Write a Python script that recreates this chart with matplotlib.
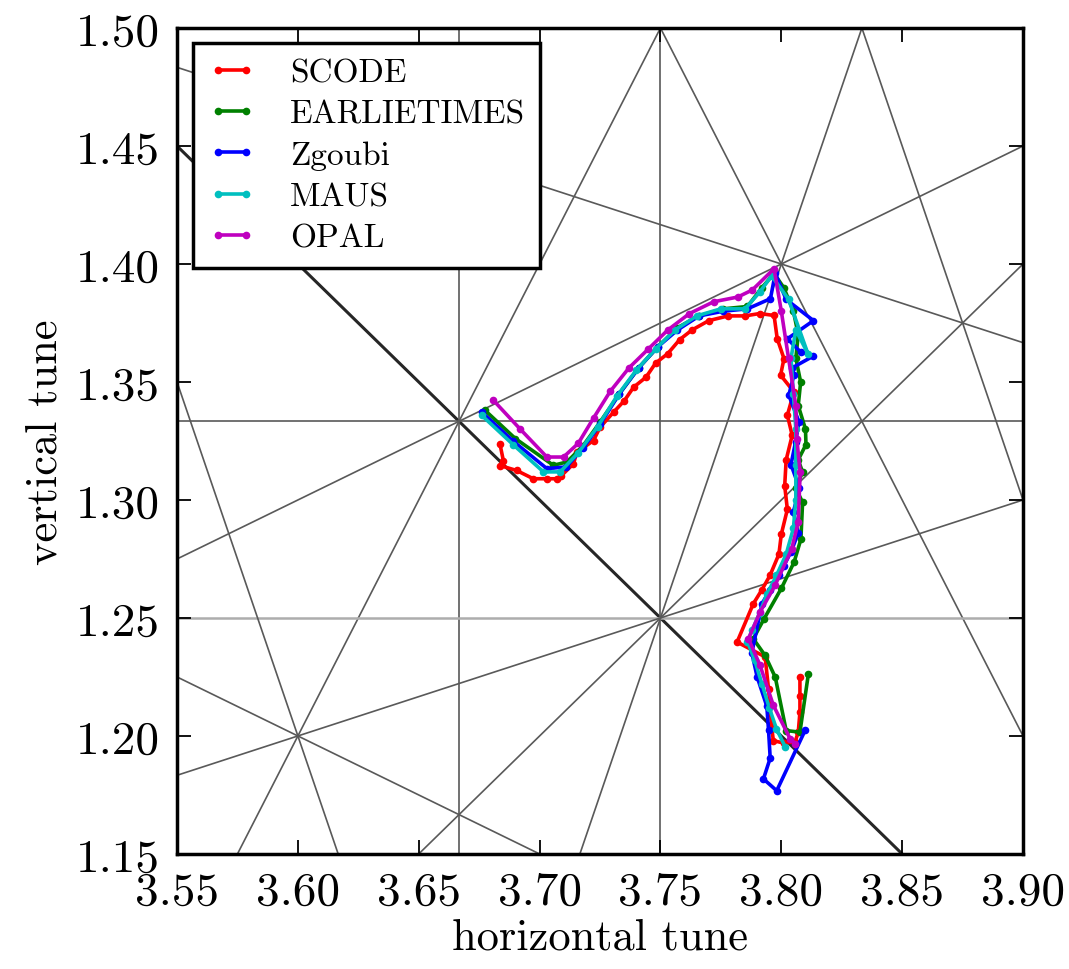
import matplotlib
matplotlib.use("Agg")
import matplotlib.pyplot as plt

plt.rcParams['font.family'] = ['cmr10', 'DejaVu Serif']
plt.rcParams['axes.formatter.use_mathtext'] = True

# resonance lines m*Qx + n*Qy = p, grouped by order
resonances = [
    (1, 1, 5),
    (3, 0, 11), (0, 3, 4), (2, 1, 9), (2, -1, 6), (1, 2, 6), (1, -2, 1),
    (4, 0, 15), (0, 4, 5), (3, 1, 12), (3, 1, 13), (1, 3, 8), (3, -1, 10),
    (1, -3, 0), (2, -2, 5),
]

scode_x = [3.6836, 3.6850, 3.6836, 3.6905, 3.6974, 3.7030, 3.7071, 3.7090, 3.7140, 3.7154,
           3.7223, 3.7250, 3.7306, 3.7350, 3.7389, 3.7440, 3.7480, 3.7530, 3.7580, 3.7630,
           3.7700, 3.7780, 3.7850, 3.7910, 3.7970, 3.7983, 3.8011, 3.7997, 3.8052, 3.8025,
           3.8045, 3.8020, 3.8014, 3.8025, 3.8000, 3.7990, 3.7953, 3.7920, 3.7884, 3.7817,
           3.7933, 3.7947, 3.7960, 3.7967, 3.8010, 3.8057, 3.8070, 3.8077, 3.8077, 3.8077]
scode_y = [1.3237, 1.3167, 1.3146, 1.3125, 1.3090, 1.3090, 1.3090, 1.3103, 1.3153, 1.3202,
           1.3252, 1.3308, 1.3372, 1.3420, 1.3478, 1.3520, 1.3580, 1.3620, 1.3680, 1.3720,
           1.3760, 1.3780, 1.3780, 1.3790, 1.3782, 1.3684, 1.3599, 1.3529, 1.3458, 1.3359,
           1.3274, 1.3170, 1.3060, 1.2960, 1.2855, 1.2770, 1.2680, 1.2620, 1.2560, 1.2398,
           1.2335, 1.2200, 1.2040, 1.1980, 1.1970, 1.1975, 1.2016, 1.2100, 1.2170, 1.2250]

early_x = [3.6774, 3.6900, 3.7057, 3.7113, 3.7180, 3.7250, 3.7330, 3.7410, 3.7490, 3.7570,
           3.7660, 3.7760, 3.7860, 3.7920, 3.7970, 3.8010, 3.8050, 3.8070, 3.8060, 3.8080,
           3.8070, 3.8100, 3.8102, 3.8070, 3.8088, 3.8060, 3.8088, 3.8081, 3.8053, 3.8000,
           3.7929, 3.7884, 3.7933, 3.7975, 3.8020, 3.8077, 3.8112]
early_y = [1.3380, 1.3260, 1.3147, 1.3161, 1.3230, 1.3330, 1.3450, 1.3560, 1.3650, 1.3730,
           1.3780, 1.3810, 1.3820, 1.3900, 1.3960, 1.3900, 1.3800, 1.3700, 1.3600, 1.3500,
           1.3400, 1.3300, 1.3235, 1.3170, 1.3118, 1.3050, 1.2990, 1.2834, 1.2737, 1.2625,
           1.2497, 1.2412, 1.2341, 1.2249, 1.2023, 1.2016, 1.2263]

zgoubi_x = [3.6760, 3.6890, 3.7030, 3.7110, 3.7180, 3.7250, 3.7330, 3.7410, 3.7490, 3.7570,
            3.7660, 3.7760, 3.7860, 3.7955, 3.7975, 3.8020, 3.8133, 3.8025, 3.8080, 3.8133,
            3.8045, 3.8052, 3.8031, 3.8073, 3.8059, 3.8040, 3.8075, 3.8050, 3.8070, 3.8040,
            3.8010, 3.7990, 3.7953, 3.7920, 3.7878, 3.7900, 3.7940, 3.7947, 3.7954, 3.7926,
            3.7981, 3.8100]
zgoubi_y = [1.3373, 1.3250, 1.3133, 1.3140, 1.3220, 1.3320, 1.3450, 1.3560, 1.3650, 1.3720,
            1.3780, 1.3800, 1.3810, 1.3853, 1.3960, 1.3850, 1.3760, 1.3683, 1.3627, 1.3610,
            1.3560, 1.3529, 1.3444, 1.3331, 1.3246, 1.3150, 1.3050, 1.2950, 1.2860, 1.2780,
            1.2720, 1.2680, 1.2620, 1.2560, 1.2352, 1.2250, 1.2126, 1.2027, 1.1906, 1.1818,
            1.1768, 1.2027]

maus_x = [3.6760, 3.6890, 3.7016, 3.7085, 3.7160, 3.7240, 3.7320, 3.7400, 3.7480, 3.7560,
          3.7650, 3.7750, 3.7850, 3.7910, 3.7960, 3.8030, 3.8110, 3.8060, 3.8040, 3.8050,
          3.8060, 3.8060, 3.8060, 3.8050, 3.8020, 3.7980, 3.7940, 3.7910, 3.7880, 3.7860,
          3.7890, 3.7920, 3.7950, 3.7980, 3.8017]
maus_y = [1.3359, 1.3235, 1.3119, 1.3119, 1.3200, 1.3310, 1.3440, 1.3550, 1.3640, 1.3720,
          1.3780, 1.3810, 1.3810, 1.3880, 1.3950, 1.3850, 1.3620, 1.3720, 1.3600, 1.3450,
          1.3300, 1.3150, 1.3000, 1.2880, 1.2770, 1.2680, 1.2600, 1.2520, 1.2450, 1.2400,
          1.2320, 1.2220, 1.2120, 1.2030, 1.1952]

opal_x = [3.6809, 3.6920, 3.7030, 3.7099, 3.7160, 3.7223, 3.7292, 3.7370, 3.7450, 3.7530,
          3.7620, 3.7720, 3.7820, 3.7880, 3.7970, 3.8000, 3.8030, 3.8060, 3.8064, 3.8078,
          3.8070, 3.8043, 3.7974, 3.7912, 3.7864, 3.7912, 3.7967, 3.8036, 3.8057]
opal_y = [1.3422, 1.3300, 1.3182, 1.3182, 1.3240, 1.3347, 1.3460, 1.3560, 1.3640, 1.3720,
          1.3790, 1.3840, 1.3860, 1.3890, 1.3980, 1.3800, 1.3600, 1.3400, 1.3259, 1.3118,
          1.2906, 1.2793, 1.2638, 1.2525, 1.2412, 1.2299, 1.2130, 1.1989, 1.1968]

codes = ['SCODE', 'EARLIETIMES', 'Zgoubi', 'MAUS', 'OPAL']
xticks = [3.55, 3.60, 3.65, 3.70, 3.75, 3.80, 3.85, 3.90]
yticks = [1.15, 1.20, 1.25, 1.30, 1.35, 1.40, 1.45, 1.50]

series = [(scode_x, scode_y), (early_x, early_y), (zgoubi_x, zgoubi_y),
          (maus_x, maus_y), (opal_x, opal_y)]
colors = ['#ff0000', '#008000', '#0000ff', '#00bfbf', '#bf00bf']

fig = plt.figure(figsize=(10.69, 9.70), dpi=100)
ax = fig.add_axes([0.1656, 0.1186, 0.7914, 0.8515])

# resonance lines
for m, n, p in resonances:
    order = abs(m) + abs(n)
    if order == 2:
        col, lw = '0.15', 2.2
    elif (m, n) == (0, 4):
        col, lw = '0.68', 1.8
    else:
        col, lw = '0.35', 1.2
    if n == 0:
        ax.axvline(p / m, color=col, lw=lw, zorder=1)
    elif m == 0:
        ax.axhline(p / n, color=col, lw=lw, zorder=1)
    else:
        ax.axline((3.7, (p - m * 3.7) / n), slope=-m / n, color=col, lw=lw, zorder=1)

for (xs, ys), c, name in zip(series, colors, codes):
    ax.plot(xs, ys, color=c, lw=2.6, marker='o', ms=5.5, mew=0, label=name, zorder=3)

ax.set_xlim(3.55, 3.90)
ax.set_ylim(1.15, 1.50)
ax.set_xticks(xticks)
ax.set_yticks(yticks)
ax.set_xticklabels(['%.2f' % t for t in xticks])
ax.set_yticklabels(['%.2f' % t for t in yticks])
ax.tick_params(direction='in', top=True, right=True, length=10, width=1.3,
               labelsize=34, pad=12)
for s in ax.spines.values():
    s.set_linewidth(2.5)

ax.set_xlabel('horizontal tune', fontsize=32, labelpad=4)
ax.set_ylabel('vertical tune', fontsize=32, labelpad=8)

leg = ax.legend(loc='upper left', bbox_to_anchor=(0.019, 0.982), borderaxespad=0,
                fontsize=24, numpoints=2, handlelength=1.45, handletextpad=1.0,
                labelspacing=0.36, borderpad=0.45, fancybox=False, framealpha=1,
                edgecolor='black')
leg.get_frame().set_linewidth(2.5)
leg.set_zorder(5)

fig.savefig('out.png', dpi=100)
